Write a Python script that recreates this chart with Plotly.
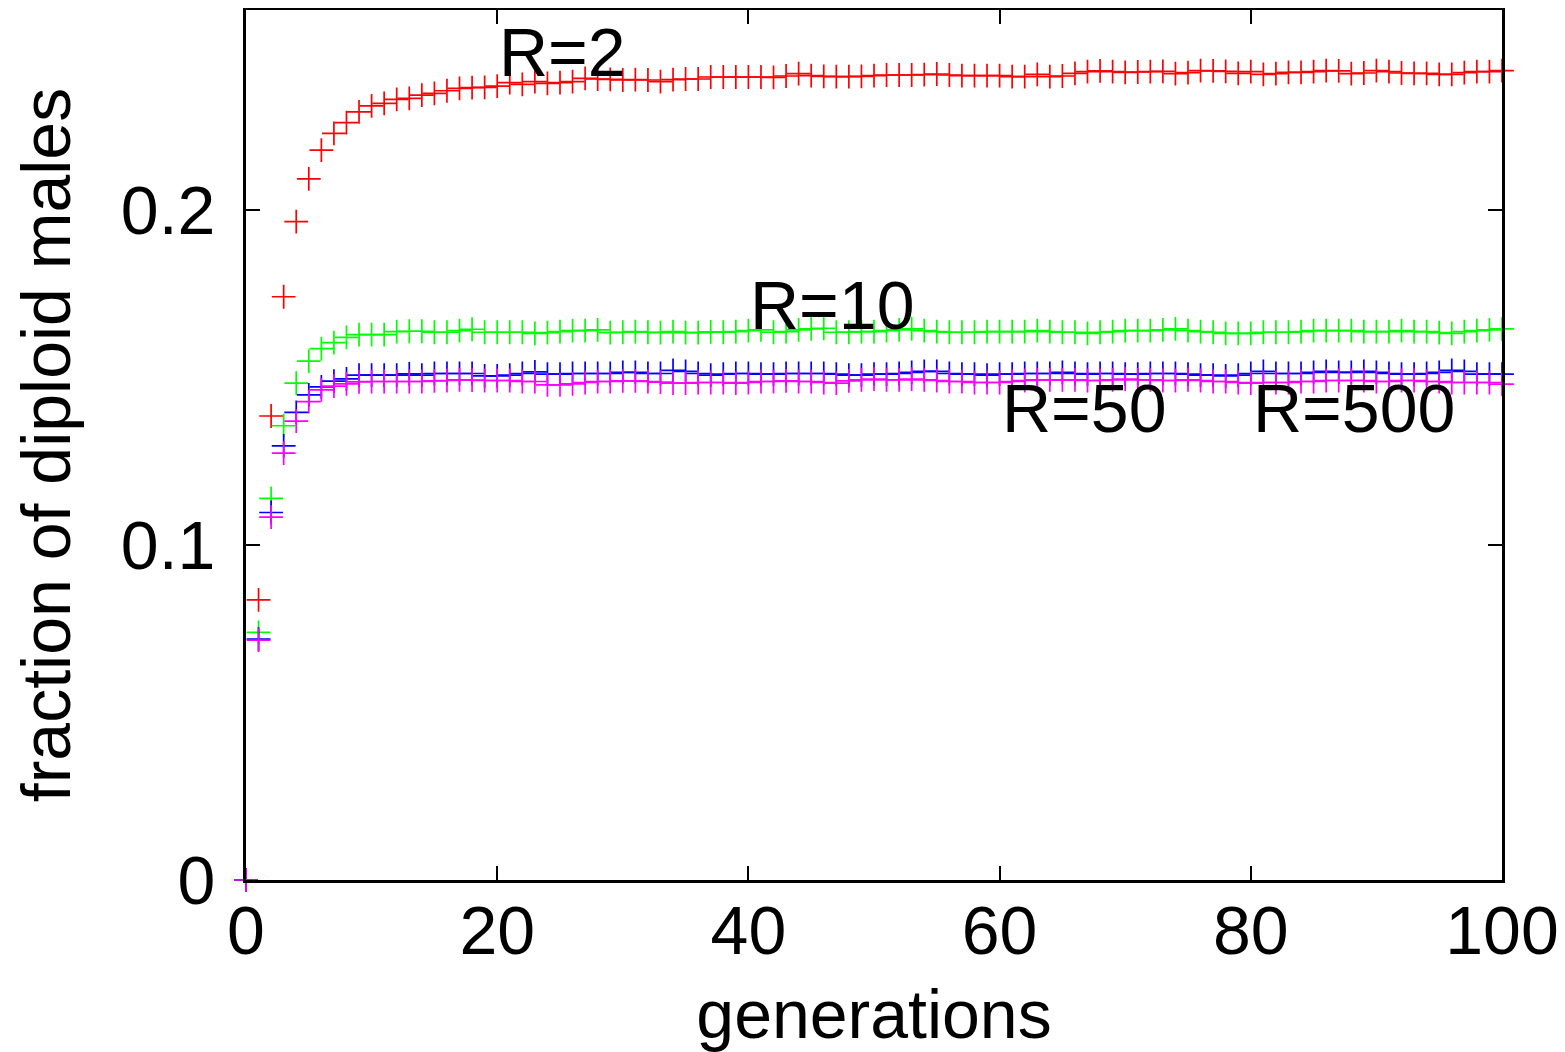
import plotly.graph_objects as go

generations = list(range(0, 101))

r2 = [0, 0.0836, 0.1385, 0.1741, 0.1965, 0.2093, 0.2179, 0.2229, 0.2261, 0.2293,
      0.2311, 0.2318, 0.2330, 0.2333, 0.2343, 0.2348, 0.2356, 0.2363, 0.2365, 0.2366,
      0.2370, 0.2380, 0.2375, 0.2383, 0.2378, 0.2380, 0.2383, 0.2393, 0.2391, 0.2390,
      0.2388, 0.2389, 0.2388, 0.2383, 0.2389, 0.2391, 0.2391, 0.2397, 0.2397, 0.2397,
      0.2397, 0.2397, 0.2396, 0.2400, 0.2407, 0.2401, 0.2399, 0.2398, 0.2398, 0.2399,
      0.2401, 0.2403, 0.2403, 0.2403, 0.2404, 0.2406, 0.2403, 0.2401, 0.2401, 0.2401,
      0.2401, 0.2398, 0.2398, 0.2405, 0.2398, 0.2400, 0.2408, 0.2413, 0.2415, 0.2413,
      0.2411, 0.2412, 0.2413, 0.2414, 0.2407, 0.2410, 0.2416, 0.2415, 0.2414, 0.2408,
      0.2413, 0.2405, 0.2407, 0.2411, 0.2411, 0.2413, 0.2416, 0.2415, 0.2407, 0.2409,
      0.2416, 0.2413, 0.2409, 0.2408, 0.2408, 0.2405, 0.2405, 0.2410, 0.2413, 0.2413,
      0.2416]

r10 = [0, 0.0739, 0.1139, 0.1356, 0.1483, 0.1549, 0.1586, 0.1604, 0.1620, 0.1628,
       0.1628, 0.1628, 0.1637, 0.1638, 0.1638, 0.1635, 0.1635, 0.1640, 0.1644, 0.1635,
       0.1635, 0.1635, 0.1635, 0.1632, 0.1634, 0.1637, 0.1640, 0.1640, 0.1642, 0.1634,
       0.1635, 0.1637, 0.1635, 0.1634, 0.1637, 0.1634, 0.1634, 0.1636, 0.1635, 0.1637,
       0.1640, 0.1642, 0.1635, 0.1637, 0.1642, 0.1645, 0.1647, 0.1635, 0.1635, 0.1637,
       0.1637, 0.1640, 0.1642, 0.1645, 0.1640, 0.1637, 0.1635, 0.1635, 0.1635, 0.1637,
       0.1637, 0.1637, 0.1637, 0.1640, 0.1637, 0.1635, 0.1635, 0.1632, 0.1635, 0.1637,
       0.1640, 0.1640, 0.1640, 0.1642, 0.1645, 0.1640, 0.1637, 0.1635, 0.1632, 0.1632,
       0.1632, 0.1635, 0.1635, 0.1635, 0.1637, 0.1640, 0.1640, 0.1640, 0.1640, 0.1637,
       0.1637, 0.1637, 0.1640, 0.1637, 0.1637, 0.1634, 0.1632, 0.1637, 0.1640, 0.1642,
       0.1645]

r50 = [0, 0.0719, 0.1097, 0.1296, 0.1396, 0.1448, 0.1472, 0.1489, 0.1496, 0.1507,
       0.1507, 0.1507, 0.1507, 0.1511, 0.1507, 0.1512, 0.1512, 0.1512, 0.1512, 0.1505,
       0.1505, 0.1507, 0.1512, 0.1517, 0.1510, 0.1510, 0.1512, 0.1512, 0.1512, 0.1512,
       0.1515, 0.1515, 0.1512, 0.1512, 0.1521, 0.1518, 0.1512, 0.1507, 0.1510, 0.1512,
       0.1512, 0.1510, 0.1510, 0.1512, 0.1512, 0.1512, 0.1512, 0.1510, 0.1507, 0.1507,
       0.1510, 0.1510, 0.1512, 0.1515, 0.1518, 0.1518, 0.1512, 0.1510, 0.1510, 0.1507,
       0.1510, 0.1510, 0.1512, 0.1512, 0.1512, 0.1515, 0.1512, 0.1510, 0.1512, 0.1512,
       0.1510, 0.1510, 0.1512, 0.1512, 0.1512, 0.1510, 0.1507, 0.1507, 0.1505, 0.1507,
       0.1512, 0.1518, 0.1512, 0.1512, 0.1512, 0.1515, 0.1518, 0.1515, 0.1515, 0.1518,
       0.1515, 0.1512, 0.1510, 0.1510, 0.1512, 0.1515, 0.1521, 0.1518, 0.1510, 0.1510,
       0.1510]

r500 = [0, 0.0716, 0.1083, 0.1274, 0.1370, 0.1428, 0.1463, 0.1474, 0.1481, 0.1487,
        0.1488, 0.1488, 0.1488, 0.1488, 0.1488, 0.1490, 0.1491, 0.1493, 0.1492, 0.1491,
        0.1491, 0.1491, 0.1488, 0.1488, 0.1478, 0.1478, 0.1481, 0.1485, 0.1488, 0.1488,
        0.1490, 0.1490, 0.1488, 0.1486, 0.1483, 0.1483, 0.1485, 0.1485, 0.1485, 0.1483,
        0.1485, 0.1488, 0.1488, 0.1490, 0.1488, 0.1488, 0.1485, 0.1483, 0.1490, 0.1493,
        0.1495, 0.1493, 0.1493, 0.1495, 0.1493, 0.1491, 0.1488, 0.1488, 0.1485, 0.1485,
        0.1485, 0.1488, 0.1491, 0.1493, 0.1493, 0.1493, 0.1493, 0.1491, 0.1491, 0.1493,
        0.1495, 0.1493, 0.1493, 0.1491, 0.1491, 0.1493, 0.1491, 0.1488, 0.1488, 0.1485,
        0.1483, 0.1485, 0.1485, 0.1485, 0.1488, 0.1488, 0.1491, 0.1491, 0.1491, 0.1491,
        0.1488, 0.1488, 0.1491, 0.1491, 0.1488, 0.1488, 0.1485, 0.1485, 0.1485, 0.1485,
        0.1480]

series_names = ["R=2", "R=10", "R=50", "R=500"]
series_values = [r2, r10, r50, r500]
series_colors = ["#ff0000", "#00ff00", "#0000ff", "#ff00ff"]

label_texts = ["R=2", "R=10", "R=50", "R=500"]
label_x = [20, 40, 60, 80]
label_y = [0.2472, 0.1716, 0.1409, 0.1409]

x_tickvals = [0, 20, 40, 60, 80, 100]
x_ticktext = ["0", "20", "40", "60", "80", "100"]
y_tickvals = [0, 0.1, 0.2]
y_ticktext = ["0", "0.1", "0.2"]

FONT = "Liberation Sans, Arial, Helvetica, sans-serif"
FS = 68

fig = go.Figure()
for name, vals, col in zip(series_names, series_values, series_colors):
    fig.add_trace(go.Scatter(
        x=generations, y=vals, name=name, mode="markers",
        marker=dict(symbol="cross-thin", size=17, color=col,
                    line=dict(color=col, width=1.7)),
        cliponaxis=False, showlegend=False,
    ))

for t, lx, ly in zip(label_texts, label_x, label_y):
    fig.add_annotation(x=lx, y=ly, text=t, showarrow=False, xanchor="left",
                       yanchor="middle", font=dict(size=FS, color="black", family=FONT))

fig.update_layout(
    width=1557, height=1044,
    margin=dict(l=238, r=63, t=2, b=172),
    paper_bgcolor="white", plot_bgcolor="white",
    font=dict(family=FONT, size=FS, color="black"),
    showlegend=False,
)
fig.update_xaxes(
    range=[0, 100], tickvals=x_tickvals, ticktext=x_ticktext,
    ticks="inside", ticklen=14, tickwidth=2, tickcolor="black",
    showline=True, linecolor="black", linewidth=3, mirror="ticks",
    showgrid=False, zeroline=False,
    tickfont=dict(size=FS, family=FONT, color="black"),
    ticklabelstandoff=-11,
    title=dict(text="generations", font=dict(size=FS, family=FONT, color="black"), standoff=26),
    automargin=False,
)
fig.update_yaxes(
    range=[0, 0.2597], tickvals=y_tickvals, ticktext=y_ticktext,
    ticks="inside", ticklen=14, tickwidth=2, tickcolor="black",
    showline=True, linecolor="black", linewidth=3, mirror="ticks",
    showgrid=False, zeroline=False,
    tickfont=dict(size=FS, family=FONT, color="black"),
    ticklabelstandoff=14,
    title=dict(text="fraction of diploid males", font=dict(size=FS, family=FONT, color="black"), standoff=33),
    automargin=False,
)

fig.write_html("out.html")
